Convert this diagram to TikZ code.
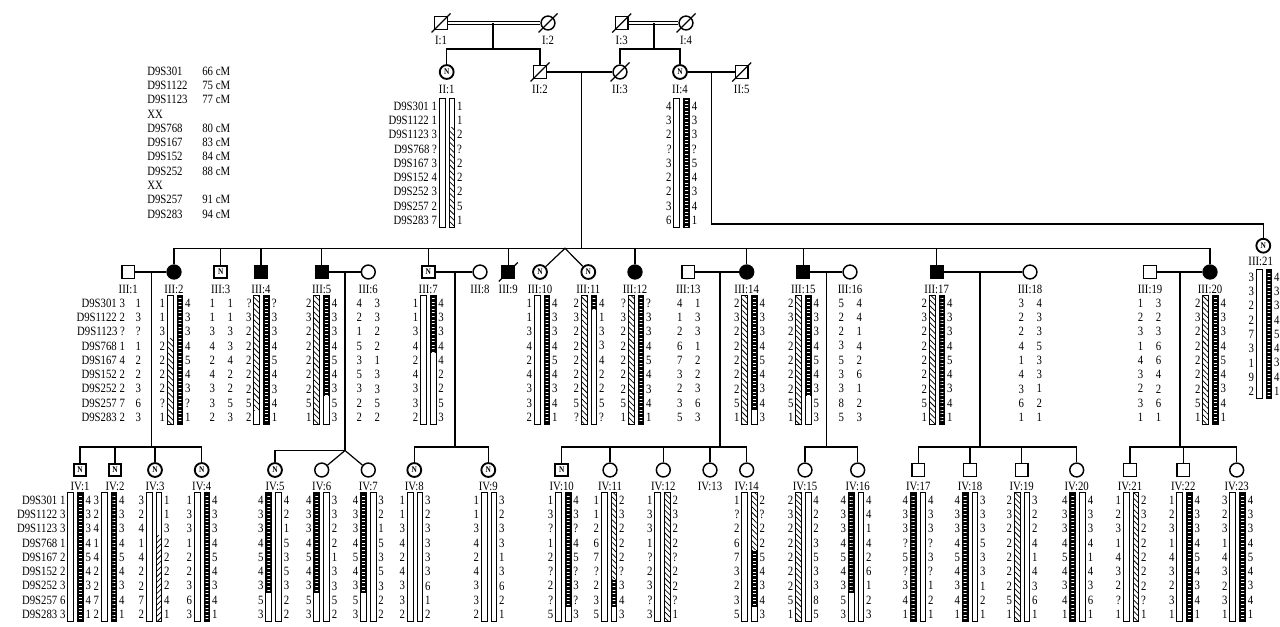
\documentclass[tikz,border=0pt]{standalone}
\usepackage{fontspec}
\setmainfont{Liberation Serif}[FakeStretch=0.85]
\usetikzlibrary{patterns.meta}

\newcommand\rowsep{14.3}
\newcommand\chw{5.8}
\newcommand\numfont{\fontsize{9.5}{10.725}\selectfont}

\tikzset{
  ind/.style={draw, line width=1.1pt, inner sep=0pt, fill=white},
  sq/.style={ind, minimum size=9.6pt},
  ci/.style={ind, circle, minimum size=10.4pt},
  aff/.style={fill=black},
  nmark/.style={line width=1.4pt, font=\fontsize{6.5}{6.5}\selectfont\bfseries},
  lbl/.style={inner sep=0pt, font=\numfont},
  nums/.style={inner sep=0pt, font=\numfont, align=center},
  chr/.style={line width=0.7pt},
  slash/.style={line width=0.9pt},
  dbl/.style={double, double distance=1.4pt, line width=0.6pt},
}

\newcommand\segw[3]{}
\newcommand\segh[3]{\fill[pattern={Lines[angle=-45,distance=3pt,line width=.55pt]}] (#1,#2) rectangle ({#1+\chw},#3);}
\newcommand\segg[3]{\fill[pattern={Lines[angle=45,distance=3pt,line width=.55pt]}] (#1,#2) rectangle ({#1+\chw},#3);}
\newcommand\segb[3]{\fill[black] (#1,#2) rectangle ({#1+\chw},#3);
  \fill[pattern={Lines[distance=2.7pt,line width=.55pt]},pattern color=white] ({#1+1.5},#2) rectangle ({#1+\chw-1.5},#3);}
\newcommand\chrom[3]{%
  \foreach \segk/\sega/\segz in {#3}{%
    \pgfmathsetmacro\ya{#2+(\sega-1.5)*\rowsep}%
    \pgfmathsetmacro\yb{#2+(\segz-0.5)*\rowsep}%
    \csname seg\segk\endcsname{#1}{\ya}{\yb}%
  }%
  \draw[chr] (#1,{#2-0.5*\rowsep}) rectangle ({#1+\chw},{#2+8.5*\rowsep});%
}
\newcommand\hap[7]{%
  \chrom{#2-7.8}{#3}{#6}%
  \chrom{#2+2}{#3}{#7}%
  \node[nums, align=right, anchor=east] (#1l) at (#2-9.5,#3+4*\rowsep) {#4};%
  \node[nums, align=left, anchor=west] (#1r) at (#2+9.5,#3+4*\rowsep) {#5};%
}
\newcommand\pair[5]{%
  \node[nums] (#1l) at (#2-9,#3+4*\rowsep) {#4};%
  \node[nums] (#1r) at (#2+9,#3+4*\rowsep) {#5};%
}
\newcommand\dead[1]{\draw[slash] ([shift={(-9.5,9.5)}]#1.center) -- ([shift={(9.5,-9.5)}]#1.center);}

\begin{document}
\begin{tikzpicture}[x=0.75pt, y=-0.75pt, line width=0.9pt]
\fill[white] (0,0) rectangle (1280,626);
\useasboundingbox (0,0) rectangle (1280,626);

\node[nums, align=left, anchor=west] (legmk) at (146.7,142.5) {D9S301\\D9S1122\\D9S1123\\XX\\D9S768\\D9S167\\D9S152\\D9S252\\XX\\D9S257\\D9S283};
\node[nums, align=left, anchor=west] (legcm) at (201.7,142.5) {66 cM\\75 cM\\77 cM\\\mbox{}\\80 cM\\83 cM\\84 cM\\88 cM\\\mbox{}\\91 cM\\94 cM};

\coordinate (gI) at (0,40);
\coordinate (gII) at (0,89);
\coordinate (gIII) at (0,289);
\coordinate (gIV) at (0,486);

\node[sq] (I1) at (441,23) {};
\node[ci] (I2) at (548,23) {};
\node[sq] (I3) at (621.7,23) {};
\node[ci] (I4) at (686,23) {};
\foreach \n/\lab in {I1/I:1,I2/I:2,I3/I:3,I4/I:4}
  \node[lbl] (t\n) at (\n |- gI) {\lab};

\node[ci,nmark] (II1) at (446.7,72) {N};
\node[sq] (II2) at (540,72) {};
\node[ci] (II3) at (620,72) {};
\node[ci,nmark] (II4) at (680,72) {N};
\node[sq] (II5) at (741.7,72) {};
\foreach \n/\lab in {II1/II:1,II2/II:2,II3/II:3,II4/II:4,II5/II:5}
  \node[lbl] (t\n) at (\n |- gII) {\lab};

\draw[dbl] (I1) -- (I2);
\draw[dbl] (I3) -- (I4);
\coordinate (m12) at (493,23);
\coordinate (s12) at (493,49);
\coordinate (m34) at (654,23);
\coordinate (s34) at (654,49);
\draw (m12) -- (s12);
\draw (II1) |- (s12) -| (II2);
\draw (m34) -- (s34);
\draw (II3) |- (s34) -| (II4);
\draw (II2) -- (II3);
\draw (II4) -- (II5);

\hap{II1}{447}{106}{D9S301 1\\D9S1122 1\\D9S1123 3\\D9S768 ?\\D9S167 3\\D9S152 4\\D9S252 3\\D9S257 2\\D9S283 7}{1\\1\\2\\?\\2\\2\\2\\5\\1}{w/1/9}{w/1/2,h/3/9}
\hap{II4}{681.7}{106}{4\\3\\2\\?\\3\\2\\2\\3\\6}{4\\3\\3\\?\\5\\4\\3\\4\\1}{w/1/9}{b/1/9}

\node[sq] (III1) at (128.3,272) {};
\node[ci,aff] (III2) at (174,272) {};
\node[sq,nmark] (III3) at (220.7,272) {N};
\node[sq,aff] (III4) at (261,272) {};
\node[sq,aff] (III5) at (321.7,272) {};
\node[ci] (III6) at (368.3,272) {};
\node[sq,nmark] (III7) at (428.3,272) {N};
\node[ci] (III8) at (480,272) {};
\node[sq,aff] (III9) at (508.3,272) {};
\node[ci,nmark] (III10) at (540,272) {N};
\node[ci,nmark] (III11) at (588.3,272) {N};
\node[ci,aff] (III12) at (635,272) {};
\node[sq] (III13) at (688.3,272) {};
\node[ci,aff] (III14) at (746.7,272) {};
\node[sq,aff] (III15) at (803.3,272) {};
\node[ci] (III16) at (850,272) {};
\node[sq,aff] (III17) at (936.7,272) {};
\node[ci] (III18) at (1030,272) {};
\node[sq] (III19) at (1150,272) {};
\node[ci,aff] (III20) at (1210,272) {};
\node[ci,nmark] (III21) at (1263.3,245.7) {N};
\foreach \n/\lab in {III1/III:1,III2/III:2,III3/III:3,III4/III:4,III5/III:5,III6/III:6,III7/III:7,III8/III:8,III9/III:9,III10/III:10,III11/III:11,III12/III:12,III13/III:13,III14/III:14,III15/III:15,III16/III:16,III17/III:17,III18/III:18,III19/III:19,III20/III:20}
  \node[lbl] (t\n) at (\n |- gIII) {\lab};
\node[lbl] (tIII21) at (1260.7,261) {III:21};

\foreach \n in {I1,I2,I3,I4,II2,II3,II5,III9}
  \dead{\n};

\coordinate (m23) at (581.7,72);
\coordinate (sL) at (174,248.3);
\coordinate (sR) at (1210,248.3);
\coordinate (tw) at (565,248.3);
\draw (m23) -- (m23 |- sL);
\draw (sL) -- (sR);
\foreach \n in {III2,III3,III4,III5,III7,III9,III12,III14,III15,III17,III20}
  \draw (\n) -- (\n |- sL);
\draw (III10) -- (tw) -- (III11);
\coordinate (m45) at (711.7,72);
\coordinate (k21) at (1263.3,224);
\draw (m45) |- (k21) -- (III21);

\draw (III1) -- (III2);
\draw (III5) -- (III6);
\draw (III7) -- (III8);
\draw (III13) -- (III14);
\draw (III15) -- (III16);
\draw (III17) -- (III18);
\draw (III19) -- (III20);

\node[nums, align=right, anchor=east] (III1l) at (125.5,{303+4*\rowsep}) {D9S301 3\\D9S1122 2\\D9S1123 ?\\D9S768 1\\D9S167 4\\D9S152 2\\D9S252 2\\D9S257 7\\D9S283 2};
\node[nums] (III1r) at (138.3,{303+4*\rowsep}) {1\\3\\?\\1\\2\\2\\3\\6\\3};
\hap{III2}{175}{303}{1\\1\\3\\2\\2\\2\\2\\?\\1}{4\\3\\3\\4\\5\\4\\3\\?\\1}{w/1/3,h/4/9}{b/1/9}
\pair{III3}{221.2}{303}{1\\1\\3\\4\\2\\4\\3\\3\\2}{1\\1\\3\\3\\4\\2\\2\\5\\3}
\hap{III4}{261.7}{303}{?\\3\\2\\2\\2\\2\\2\\5\\2}{?\\3\\3\\4\\5\\4\\3\\4\\1}{h/1/8,w/9/9}{b/1/9}
\hap{III5}{321.7}{303}{2\\3\\2\\2\\2\\2\\2\\5\\1}{4\\3\\3\\4\\5\\4\\3\\5\\3}{h/1/9}{b/1/7,w/8/9}
\pair{III6}{368.3}{303}{4\\2\\1\\5\\3\\5\\3\\2\\2}{3\\3\\2\\2\\1\\3\\3\\5\\2}
\hap{III7}{428.3}{303}{1\\1\\3\\4\\2\\4\\3\\3\\2}{4\\3\\3\\4\\4\\2\\2\\5\\3}{w/1/9}{b/1/4,w/5/9}
\hap{III10}{542}{303}{1\\1\\3\\4\\2\\4\\3\\3\\2}{4\\3\\3\\4\\5\\4\\3\\4\\1}{w/1/9}{b/1/9}
\hap{III11}{589}{303}{2\\3\\2\\2\\2\\2\\2\\5\\?}{4\\1\\3\\3\\4\\2\\2\\5\\?}{h/1/9}{b/1/1,w/2/9}
\hap{III12}{636}{303}{?\\3\\2\\2\\2\\2\\2\\5\\1}{?\\3\\3\\4\\5\\4\\3\\4\\1}{h/1/9}{b/1/9}
\pair{III13}{688.9}{303}{4\\1\\2\\6\\7\\3\\2\\3\\5}{1\\3\\3\\1\\2\\2\\3\\6\\3}
\hap{III14}{749.5}{303}{2\\3\\2\\2\\2\\2\\2\\5\\1}{4\\3\\3\\4\\5\\4\\3\\4\\3}{h/1/9}{b/1/8,w/9/9}
\hap{III15}{803.5}{303}{2\\3\\2\\2\\2\\2\\2\\5\\1}{4\\3\\3\\4\\5\\4\\3\\5\\3}{h/1/9}{b/1/7,w/8/9}
\pair{III16}{850.4}{303}{5\\2\\2\\3\\5\\3\\3\\8\\5}{4\\4\\1\\4\\2\\6\\1\\2\\3}
\hap{III17}{937}{303}{2\\3\\2\\2\\2\\2\\2\\5\\1}{4\\3\\3\\4\\5\\4\\3\\4\\1}{h/1/9}{b/1/9}
\pair{III18}{1030.2}{303}{3\\2\\2\\4\\1\\4\\3\\6\\1}{4\\3\\3\\5\\3\\3\\1\\2\\1}
\pair{III19}{1149.5}{303}{1\\2\\3\\1\\4\\3\\2\\3\\1}{3\\2\\3\\6\\6\\4\\2\\6\\1}
\hap{III20}{1210.5}{303}{2\\3\\2\\2\\2\\2\\2\\5\\1}{4\\3\\3\\4\\5\\4\\3\\4\\1}{h/1/9}{b/1/9}
\hap{III21}{1264}{277}{3\\3\\2\\2\\7\\3\\1\\9\\2}{4\\3\\3\\4\\5\\4\\3\\4\\1}{w/1/9}{b/1/9}

\node[sq,nmark] (IV1) at (80,470) {N};
\node[sq,nmark] (IV2) at (115,470) {N};
\node[ci,nmark] (IV3) at (155,470) {N};
\node[ci,nmark] (IV4) at (201.7,470) {N};
\node[ci,nmark] (IV5) at (275,470) {N};
\node[ci] (IV6) at (321.7,470) {};
\node[ci] (IV7) at (368.3,470) {};
\node[ci,nmark] (IV8) at (414.3,470) {N};
\node[ci,nmark] (IV9) at (488.3,470) {N};
\node[sq,nmark] (IV10) at (561.7,470) {N};
\node[ci] (IV11) at (610,470) {};
\node[ci] (IV12) at (663.3,470) {};
\node[ci] (IV13) at (710,470) {};
\node[ci] (IV14) at (746.7,470) {};
\node[ci] (IV15) at (805,470) {};
\node[ci] (IV16) at (857.7,470) {};
\node[sq] (IV17) at (918.3,470) {};
\node[sq] (IV18) at (970,470) {};
\node[sq] (IV19) at (1021.7,470) {};
\node[ci] (IV20) at (1076.7,470) {};
\node[sq] (IV21) at (1130,470) {};
\node[sq] (IV22) at (1183.3,470) {};
\node[ci] (IV23) at (1236.7,470) {};
\foreach \n/\lab in {IV1/IV:1,IV2/IV:2,IV3/IV:3,IV4/IV:4,IV5/IV:5,IV6/IV:6,IV7/IV:7,IV8/IV:8,IV9/IV:9,IV10/IV:10,IV11/IV:11,IV12/IV:12,IV13/IV:13,IV14/IV:14,IV15/IV:15,IV16/IV:16,IV17/IV:17,IV18/IV:18,IV19/IV:19,IV20/IV:20,IV21/IV:21,IV22/IV:22,IV23/IV:23}
  \node[lbl] (t\n) at (\n |- gIV) {\lab};

\coordinate (m1) at (151.7,272);
\coordinate (s1) at (151.7,447);
\draw (m1) -- (s1);
\draw (IV1) |- (s1) -| (IV4);
\draw (IV2) -- (IV2 |- s1);
\draw (IV3) -- (IV3 |- s1);
\coordinate (m5) at (345,272);
\coordinate (s5) at (345,450.5);
\draw (m5) -- (s5) -| (IV5);
\draw (IV6) -- (s5) -- (IV7);
\coordinate (m7) at (455,272);
\coordinate (s7) at (455,447);
\draw (m7) -- (s7);
\draw (IV8) |- (s7) -| (IV9);
\coordinate (m13) at (720,272);
\coordinate (s13) at (720,447);
\draw (m13) -- (s13);
\draw (IV10) |- (s13) -| (IV14);
\foreach \n in {IV11,IV12,IV13}
  \draw (\n) -- (\n |- s13);
\coordinate (m15) at (826.7,272);
\coordinate (s15) at (826.7,447);
\draw (m15) -- (s15);
\draw (IV15) |- (s15) -| (IV16);
\coordinate (m17) at (980,272);
\coordinate (s17) at (980,447);
\draw (m17) -- (s17);
\draw (IV17) |- (s17) -| (IV20);
\foreach \n in {IV18,IV19}
  \draw (\n) -- (\n |- s17);
\coordinate (m19) at (1180,272);
\coordinate (s19) at (1180,447);
\draw (m19) -- (s19);
\draw (IV21) |- (s19) -| (IV23);
\draw (IV22) -- (IV22 |- s19);

\hap{IV1}{75.5}{500}{D9S301 1\\D9S1122 3\\D9S1123 3\\D9S768 1\\D9S167 2\\D9S152 2\\D9S252 3\\D9S257 6\\D9S283 3}{4\\3\\3\\4\\5\\4\\3\\4\\1}{w/1/9}{b/1/9}
\hap{IV2}{109}{500}{3\\2\\4\\1\\4\\2\\2\\7\\2}{4\\3\\3\\4\\5\\4\\3\\4\\1}{w/1/9}{b/1/9}
\hap{IV3}{154}{500}{3\\2\\4\\1\\4\\2\\2\\7\\2}{1\\1\\3\\2\\2\\2\\2\\4\\1}{w/1/9}{w/1/3,g/4/9}
\hap{IV4}{202}{500}{1\\3\\3\\1\\2\\2\\3\\6\\3}{4\\3\\3\\4\\5\\4\\3\\4\\1}{w/1/9}{b/1/9}
\hap{IV5}{273.7}{500}{4\\3\\3\\4\\5\\4\\3\\5\\3}{4\\2\\1\\5\\3\\5\\3\\2\\2}{b/1/7,w/8/9}{w/1/9}
\hap{IV6}{321.7}{500}{4\\3\\3\\4\\5\\4\\3\\5\\3}{3\\3\\2\\2\\1\\3\\3\\5\\2}{b/1/7,w/8/9}{w/1/9}
\hap{IV7}{368.3}{500}{4\\3\\3\\4\\5\\4\\3\\5\\3}{3\\2\\1\\5\\3\\5\\3\\2\\2}{b/1/7,w/8/9}{w/1/9}
\hap{IV8}{415}{500}{1\\1\\3\\4\\2\\4\\3\\3\\2}{3\\2\\3\\3\\3\\3\\6\\1\\2}{w/1/9}{w/1/9}
\hap{IV9}{489}{500}{1\\1\\3\\4\\2\\4\\3\\3\\2}{3\\2\\3\\3\\1\\3\\6\\2\\1}{w/1/9}{w/1/9}
\hap{IV10}{563.3}{500}{1\\3\\?\\1\\2\\?\\2\\?\\5}{4\\3\\?\\4\\5\\?\\3\\?\\3}{w/1/9}{b/1/8,w/9/9}
\hap{IV11}{609}{500}{1\\1\\2\\6\\7\\?\\2\\3\\5}{2\\3\\2\\2\\2\\?\\3\\4\\3}{w/1/9}{h/1/6,b/7/8,w/9/9}
\hap{IV12}{662.5}{500}{1\\3\\3\\1\\?\\2\\3\\?\\3}{2\\3\\2\\2\\?\\2\\2\\?\\1}{w/1/9}{h/1/9}
\hap{IV14}{749.5}{500}{1\\?\\2\\6\\7\\3\\2\\3\\5}{2\\?\\2\\2\\5\\4\\3\\4\\3}{w/1/9}{h/1/4,b/5/8,w/9/9}
\hap{IV15}{803.3}{500}{2\\3\\2\\2\\2\\2\\2\\5\\1}{4\\2\\2\\3\\5\\3\\3\\8\\5}{h/1/9}{w/1/9}
\hap{IV16}{856}{500}{4\\3\\3\\4\\5\\4\\3\\5\\3}{4\\4\\1\\4\\2\\6\\1\\2\\3}{b/1/7,w/8/9}{w/1/9}
\hap{IV17}{918}{500}{4\\3\\3\\?\\5\\?\\3\\4\\1}{4\\3\\3\\?\\3\\?\\1\\2\\1}{b/1/9}{w/1/9}
\hap{IV18}{970}{500}{4\\3\\3\\4\\5\\4\\3\\4\\1}{3\\3\\3\\5\\3\\3\\1\\2\\1}{b/1/9}{w/1/9}
\hap{IV19}{1022}{500}{2\\3\\2\\2\\2\\2\\2\\5\\1}{3\\2\\2\\4\\1\\4\\3\\6\\1}{h/1/9}{w/1/9}
\hap{IV20}{1077.7}{500}{4\\3\\3\\4\\5\\4\\3\\4\\1}{4\\3\\3\\4\\1\\4\\3\\6\\1}{b/1/9}{w/1/9}
\hap{IV21}{1131}{500}{1\\2\\3\\1\\4\\3\\2\\?\\1}{2\\3\\2\\2\\2\\2\\2\\?\\1}{w/1/9}{h/1/9}
\hap{IV22}{1184.5}{500}{1\\2\\3\\1\\4\\3\\2\\3\\1}{4\\3\\3\\4\\5\\4\\3\\4\\1}{w/1/9}{b/1/9}
\hap{IV23}{1237.7}{500}{3\\2\\3\\1\\4\\3\\2\\3\\1}{4\\3\\3\\4\\5\\4\\3\\4\\1}{w/1/9}{b/1/9}
\end{tikzpicture}
\end{document}
